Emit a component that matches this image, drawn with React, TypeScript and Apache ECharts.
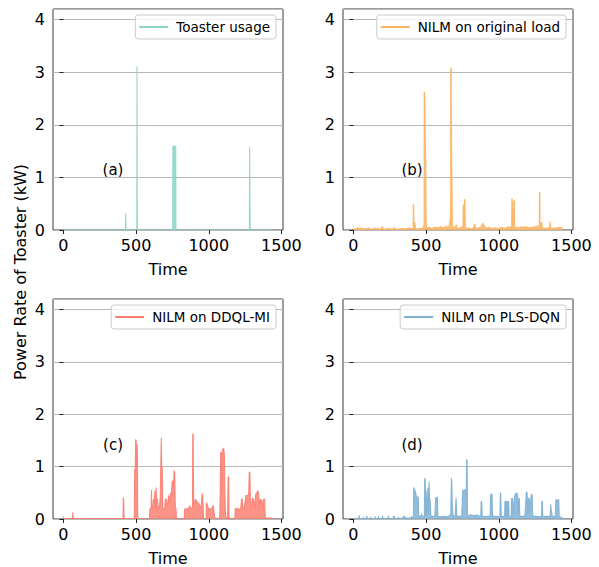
import React, { useEffect, useRef } from "react";
import * as echarts from "echarts";

// [time (min), power (kW)]
const toasterUsage: [number, number][] = [
  [0, 0], [427, 0], [428, 0.32], [430, 0.32], [431, 0], [505, 0], [506, 3.11], [507, 3.11], [508, 0],
  [752, 0], [753, 1.59], [773, 1.59], [774, 0], [1280, 0], [1281, 1.58], [1284, 1.58], [1285, 0], [1439, 0],
];

const nilmOriginal: [number, number][] = [
  [0, 0.01], [5, 0.03], [8, 0.01], [20, 0.02], [30, 0.05], [33, 0.01], [45, 0.04], [48, 0.01], [55, 0.05], [58, 0.01],
  [75, 0.03], [90, 0.02], [110, 0.04], [113, 0.01], [130, 0.02], [150, 0.04], [153, 0.01], [165, 0.03], [185, 0.01],
  [200, 0.07], [203, 0.01], [220, 0.02], [250, 0.03], [265, 0.01], [285, 0.05], [288, 0.01], [305, 0.02], [335, 0.03],
  [360, 0.02], [385, 0.04], [405, 0.02], [411, 0.03], [412, 0.49], [415, 0.45], [416, 0.05], [420, 0.14], [424, 0.13],
  [426, 0.03], [440, 0.02], [460, 0.04], [478, 0.02], [486, 0.1], [487, 2.63], [490, 2.6], [492, 2.31], [495, 1.5],
  [498, 1.28], [499, 0.4], [501, 0.1], [506, 0.03], [520, 0.05], [540, 0.03], [560, 0.05], [580, 0.04], [600, 0.06],
  [620, 0.04], [640, 0.07], [655, 0.05], [662, 0.12], [669, 0.3], [670, 3.09], [673, 3.07], [676, 1.34], [679, 0.63],
  [680, 0.08], [695, 0.04], [710, 0.1], [713, 0.02], [730, 0.04], [748, 0.06], [754, 0.05], [755, 0.48], [758, 0.45],
  [760, 0.1], [764, 0.55], [767, 0.59], [769, 0.12], [773, 0.03], [790, 0.04], [810, 0.02], [828, 0.05], [834, 0.12],
  [837, 0.1], [840, 0.03], [860, 0.04], [875, 0.05], [889, 0.13], [893, 0.11], [897, 0.08], [905, 0.07], [910, 0.03],
  [930, 0.05], [950, 0.03], [975, 0.04], [1000, 0.03], [1020, 0.05], [1040, 0.03], [1060, 0.05], [1080, 0.06],
  [1089, 0.05], [1090, 0.6], [1093, 0.58], [1095, 0.1], [1100, 0.1], [1104, 0.56], [1108, 0.55], [1109, 0.05],
  [1130, 0.04], [1150, 0.06], [1170, 0.05], [1190, 0.06], [1210, 0.04], [1230, 0.05], [1250, 0.06], [1265, 0.07],
  [1279, 0.06], [1280, 0.72], [1283, 0.7], [1284, 0.1], [1290, 0.08], [1294, 0.15], [1297, 0.13], [1300, 0.04],
  [1320, 0.03], [1340, 0.04], [1350, 0.05], [1353, 0.16], [1356, 0.15], [1359, 0.03], [1380, 0.03], [1400, 0.04],
  [1420, 0.05], [1439, 0.03],
];

const nilmDdqlMi: [number, number][] = [
  [0, 0.05], [3, 0.01], [62, 0.01], [64, 0.13], [67, 0.01], [410, 0.01], [412, 0.41], [415, 0.35], [417, 0.01],
  [488, 0.01], [490, 0.95], [494, 0.9], [497, 1.52], [500, 1.5], [503, 1.0], [506, 1.43], [509, 1.3], [511, 0],
  [593, 0], [594, 0.19], [603, 0.2], [606, 0.56], [609, 0.2], [615, 0.2], [620, 0.38], [625, 0.3], [630, 0.54],
  [634, 0.2], [638, 0.6], [641, 0.38], [647, 0.38], [652, 0.2], [661, 0.25], [666, 0.4], [670, 0.4], [673, 1.55],
  [676, 1.0], [680, 0.98], [683, 0.2], [690, 0.2], [696, 0.2], [702, 0.38], [707, 0.38], [712, 0.25], [718, 0.3],
  [723, 0.45], [730, 0.35], [737, 0.5], [742, 0.45], [748, 0.7], [753, 0.73], [757, 0.6], [762, 0.92], [766, 0.9],
  [770, 0.2], [775, 0.2], [777, 0], [832, 0], [833, 0.19], [845, 0.19], [855, 0.2], [863, 0.2], [868, 0.25],
  [872, 0.25], [880, 0.2], [888, 0.2], [890, 1.63], [893, 1.6], [896, 0.3], [900, 0.25], [908, 0.38], [914, 0.35],
  [920, 0.33], [926, 0.3], [932, 0.3], [938, 0.25], [945, 0.2], [950, 0.3], [954, 0.49], [958, 0.45], [962, 0.2],
  [964, 0], [982, 0], [983, 0.31], [990, 0.28], [996, 0.2], [1003, 0.2], [1010, 0.18], [1015, 0.2], [1022, 0.2],
  [1027, 0.25], [1032, 0.25], [1038, 0.1], [1042, 0.03], [1046, 0], [1075, 0], [1077, 0.2], [1080, 0.2],
  [1082, 1.28], [1086, 1.25], [1090, 0.5], [1094, 1.33], [1098, 1.3], [1101, 1.36], [1105, 1.3], [1108, 1.2],
  [1111, 0.5], [1114, 0.2], [1118, 0.03], [1130, 0.03], [1133, 0.81], [1137, 0.8], [1140, 0.03], [1143, 0],
  [1180, 0], [1182, 0.2], [1190, 0.19], [1200, 0.2], [1210, 0.18], [1220, 0.2], [1226, 0.39], [1230, 0.38],
  [1234, 0.2], [1240, 0.2], [1248, 0.3], [1256, 0.45], [1262, 0.45], [1270, 0.45], [1275, 0.5], [1279, 0.9],
  [1283, 0.88], [1287, 0.3], [1292, 0.2], [1300, 0.4], [1308, 0.38], [1316, 0.2], [1322, 0.45], [1328, 0.5],
  [1334, 0.5], [1338, 0.54], [1343, 0.5], [1348, 0.2], [1355, 0.38], [1360, 0.35], [1366, 0.36], [1372, 0.2],
  [1378, 0.38], [1384, 0.38], [1388, 0.1], [1390, 0.02], [1436, 0.02], [1437, 0],
];

const nilmPlsDqn: [number, number][] = [
  [0, 0.01], [37, 0.01], [39, 0.07], [42, 0.01], [68, 0.01], [70, 0.04], [73, 0.01], [90, 0.01], [92, 0.06],
  [95, 0.01], [118, 0.01], [120, 0.04], [123, 0.01], [148, 0.01], [150, 0.05], [153, 0.01], [170, 0.01], [172, 0.05],
  [175, 0.01], [199, 0.01], [201, 0.06], [204, 0.01], [238, 0.01], [240, 0.06], [243, 0.01], [273, 0.01], [275, 0.06],
  [278, 0.01], [280, 0.06], [283, 0.01], [307, 0.01], [309, 0.04], [312, 0.01], [340, 0.02], [343, 0.05], [352, 0.05],
  [355, 0.02], [395, 0.02], [400, 0.05], [404, 0.02], [412, 0.03], [415, 0.6], [420, 0.57], [426, 0.52], [432, 0.45],
  [438, 0.42], [446, 0.42], [449, 0.05], [460, 0.05], [469, 0.1], [472, 0.05], [488, 0.05], [490, 0.78], [494, 0.75],
  [497, 0.05], [500, 0.55], [504, 0.55], [507, 0.1], [512, 0.6], [516, 0.1], [520, 0.71], [524, 0.4], [528, 0.35],
  [532, 0.1], [536, 0.05], [560, 0.05], [566, 0.4], [572, 0.41], [578, 0.42], [581, 0.05], [600, 0.04], [620, 0.05],
  [640, 0.04], [660, 0.06], [670, 0.1], [674, 0.78], [677, 0.7], [680, 0.3], [684, 0.1], [690, 0.05], [700, 0.06],
  [706, 0.4], [710, 0.4], [712, 0.05], [730, 0.05], [745, 0.06], [752, 0.55], [760, 0.55], [768, 0.56], [772, 0.5],
  [776, 0.4], [779, 1.14], [782, 1.12], [785, 0.1], [790, 0.06], [810, 0.08], [830, 0.06], [845, 0.08], [860, 0.06],
  [876, 0.05], [879, 0.34], [883, 0.33], [886, 0.05], [900, 0.05], [920, 0.05], [940, 0.05], [944, 0.47], [950, 0.48],
  [954, 0.47], [957, 0.1], [962, 0.05], [985, 0.05], [1000, 0.04], [1008, 0.05], [1011, 0.5], [1014, 0.48],
  [1017, 0.05], [1040, 0.05], [1043, 0.35], [1047, 0.33], [1050, 0.05], [1053, 0.34], [1057, 0.33], [1060, 0.05],
  [1064, 0.34], [1068, 0.33], [1071, 0.05], [1085, 0.05], [1088, 0.38], [1092, 0.4], [1096, 0.38], [1100, 0.1],
  [1110, 0.45], [1115, 0.48], [1120, 0.48], [1125, 0.5], [1130, 0.45], [1134, 0.1], [1138, 0.4], [1142, 0.38],
  [1145, 0.05], [1160, 0.05], [1180, 0.05], [1190, 0.52], [1195, 0.5], [1199, 0.1], [1205, 0.4], [1210, 0.38],
  [1213, 0.1], [1220, 0.35], [1225, 0.48], [1230, 0.45], [1234, 0.05], [1260, 0.05], [1280, 0.04], [1294, 0.05],
  [1297, 0.35], [1300, 0.33], [1303, 0.05], [1330, 0.05], [1345, 0.05], [1354, 0.05], [1357, 0.28], [1360, 0.2],
  [1364, 0.12], [1368, 0.05], [1390, 0.05], [1393, 0.37], [1400, 0.36], [1408, 0.36], [1413, 0.37], [1416, 0.05],
  [1430, 0.03], [1439, 0.02],
];

const seriesNames = ["Toaster usage", "NILM on original load", "NILM on DDQL-MI", "NILM on PLS-DQN"];
const seriesColors = ["#8dd3c7", "#fdb462", "#fb8072", "#80b1d3"];
const panelLabels = ["(a)", "(b)", "(c)", "(d)"];
const xTicks = [0, 500, 1000, 1500];
const yLabel = "Power Rate of Toaster (kW)";
const xLabel = "Time";

const FONT = "DejaVu Sans";

export default function App() {
  const ref = useRef<HTMLDivElement>(null);
  useEffect(() => {
    if (!ref.current) return;
    const chart = echarts.init(ref.current, undefined, { renderer: "svg" });
    const allData = [toasterUsage, nilmOriginal, nilmDdqlMi, nilmPlsDqn];
    const grids = [
      { left: 53, top: 9, width: 230, height: 221 },
      { left: 343, top: 9, width: 230, height: 221 },
      { left: 53, top: 299, width: 230, height: 221 },
      { left: 343, top: 299, width: 230, height: 221 },
    ];
    const labelPos = [
      [113, 170],
      [412, 170],
      [113, 445],
      [412, 445],
    ];
    const option: any = {
      animation: false,
      backgroundColor: "#ffffff",
      grid: grids.map((g) => ({ ...g, show: true, borderColor: "#3a3a3a", borderWidth: 1, backgroundColor: "transparent" })),
      xAxis: grids.map((_, i) => ({
        type: "value",
        gridIndex: i,
        min: -72,
        max: 1511,
        name: xLabel,
        nameLocation: "middle",
        nameGap: 31,
        nameTextStyle: { fontSize: 16, fontFamily: FONT, color: "#000" },
        axisLine: { show: false },
        axisTick: { show: true, length: 4, customValues: xTicks, lineStyle: { color: "#222", width: 1 } },
        axisLabel: {
          customValues: xTicks,
          fontSize: 16,
          fontFamily: FONT,
          color: "#000",
          margin: 7,
          formatter: (v: number) => String(v),
        },
        splitLine: { show: false },
      })),
      yAxis: grids.map((_, i) => ({
        type: "value",
        gridIndex: i,
        min: 0,
        max: 4.2,
        interval: 1,
        axisLine: { show: false },
        axisTick: { show: true, length: 4, lineStyle: { color: "#222", width: 1 } },
        axisLabel: { fontSize: 16, fontFamily: FONT, color: "#000", margin: 8, showMaxLabel: false },
        splitLine: { show: true, lineStyle: { color: "#b8b8b8", width: 1.2 } },
      })),
      legend: seriesNames.map((name, i) => ({
        data: [name],
        right: i % 2 === 0 ? 323 : 33,
        top: i < 2 ? 15 : 305,
        orient: "horizontal",
        icon: "rect",
        itemWidth: 29,
        itemHeight: 2,
        itemGap: 10,
        padding: [5, 6, 5, 4],
        backgroundColor: "rgba(255,255,255,0.8)",
        borderColor: "#cccccc",
        borderWidth: 1,
        borderRadius: 3,
        textStyle: { fontSize: 13.5, fontFamily: FONT, color: "#000", padding: [0, 0, 0, 3] },
      })),
      series: seriesNames.map((name, i) => ({
        name,
        type: "line",
        xAxisIndex: i,
        yAxisIndex: i,
        data: allData[i],
        symbol: "none",
        showSymbol: false,
        lineStyle: { color: seriesColors[i], width: 1.1, opacity: 0.9 },
        itemStyle: { color: seriesColors[i] },
        areaStyle: { color: seriesColors[i], opacity: 0.85 },
        clip: true,
      })),
      graphic: [
        ...panelLabels.map((t, i) => ({
          type: "text",
          x: labelPos[i][0],
          y: labelPos[i][1],
          style: { text: t, fontSize: 15, fontFamily: FONT, fill: "#000", align: "center", verticalAlign: "middle" },
        })),
        {
          type: "text",
          x: 20,
          y: 272,
          rotation: Math.PI / 2,
          style: { text: yLabel, fontSize: 16, fontFamily: FONT, fill: "#000", align: "center", verticalAlign: "middle" },
        },
      ],
    };
    chart.setOption(option);
    return () => chart.dispose();
  }, []);
  return (
    <div
      ref={ref}
      style={{ position: "fixed", left: 0, top: 0, width: 599, height: 567, background: "#fff" }}
    />
  );
}
